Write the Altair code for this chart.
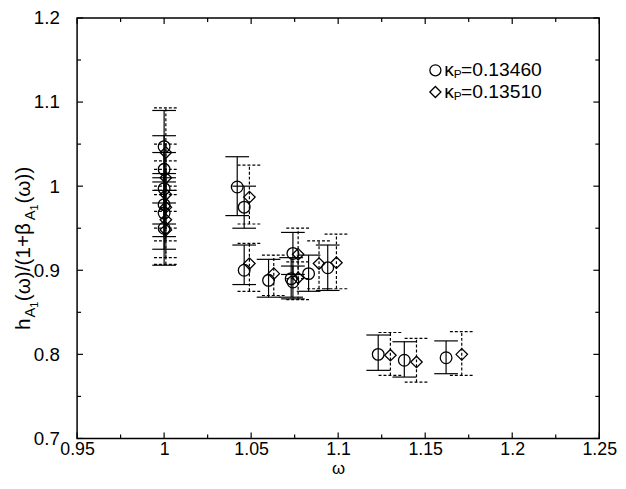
import altair as alt
import pandas as pd

# ---------------- data ----------------
kappa = ["0.13460", "0.13510"]

# series 1 : kappa_P = 0.13460 (open circles)
w1 = [1.000, 1.000, 1.000, 1.000, 1.000, 1.000,
      1.042, 1.046,
      1.046, 1.060, 1.074, 1.073, 1.074, 1.083, 1.094,
      1.123, 1.138, 1.162]
h1 = [1.047, 1.020, 0.997, 0.978, 0.968, 0.950,
      0.999, 0.975,
      0.900, 0.888, 0.920, 0.890, 0.886, 0.896, 0.903,
      0.800, 0.793, 0.796]
lo1 = [1.005, 0.980, 0.955, 0.940, 0.925, 0.906,
       0.965, 0.950,
       0.883, 0.868, 0.895, 0.868, 0.866, 0.875, 0.876,
       0.781, 0.773, 0.777]
hi1 = [1.090, 1.060, 1.040, 1.015, 1.010, 0.995,
       1.035, 1.000,
       0.930, 0.913, 0.945, 0.915, 0.905, 0.918, 0.930,
       0.823, 0.815, 0.816]

# series 2 : kappa_P = 0.13510 (open diamonds)
w2 = [1.001, 1.001, 1.001, 1.001, 1.001, 1.001,
      1.049,
      1.049, 1.063, 1.077, 1.077, 1.089, 1.099,
      1.130, 1.145, 1.171]
h2 = [1.040, 1.010, 0.990, 0.975, 0.960, 0.948,
      0.987,
      0.908, 0.896, 0.919, 0.891, 0.908, 0.909,
      0.799, 0.791, 0.800]
lo2 = [0.995, 0.970, 0.950, 0.935, 0.915, 0.907,
       0.955,
       0.875, 0.870, 0.890, 0.865, 0.878, 0.878,
       0.775, 0.767, 0.775]
hi2 = [1.093, 1.050, 1.030, 1.020, 1.000, 0.990,
       1.025,
       0.932, 0.918, 0.950, 0.910, 0.935, 0.943,
       0.826, 0.819, 0.827]

x_major = [0.95, 1.0, 1.05, 1.1, 1.15, 1.2, 1.25]
x_minor = [0.975, 1.025, 1.075, 1.125, 1.175, 1.225]
y_major = [0.7, 0.8, 0.9, 1.0, 1.1, 1.2]
y_minor = [0.75, 0.85, 0.95, 1.05, 1.15]

# ---------------- chart ----------------
W, H = 529, 426
FONT = "Liberation Sans"
FS = 19
LW = 1.2

d1 = pd.DataFrame({"w": w1, "h": h1, "lo": lo1, "hi": hi1})
d2 = pd.DataFrame({"w": w2, "h": h2, "lo": lo2, "hi": hi2})

xs = alt.Scale(domain=[0.95, 1.25], nice=False, zero=False)
ys = alt.Scale(domain=[0.7, 1.2], nice=False, zero=False)

x_axis = alt.Axis(values=x_major, format="~g", title=None, labelPadding=2, labelFontSize=18)
y_axis = alt.Axis(values=y_major, format="~g", title=None, labelPadding=18)


def xq(field):
    return alt.X(field, type="quantitative", scale=xs, axis=x_axis)


def yq(field):
    return alt.Y(field, type="quantitative", scale=ys, axis=y_axis)


layers = []


def errbars(df, dash=None):
    kw = dict(color="black", strokeWidth=LW)
    if dash:
        kw["strokeDash"] = dash
    base = alt.Chart(df)
    v = base.mark_rule(**kw).encode(x=xq("w"), y=yq("lo"), y2="hi")
    t = base.mark_rule(xOffset=-12, x2Offset=12, **kw).encode(x=xq("w"), x2="w", y=yq("hi"))
    b = base.mark_rule(xOffset=-12, x2Offset=12, **kw).encode(x=xq("w"), x2="w", y=yq("lo"))
    return [v, t, b]


pts1 = alt.Chart(d1).mark_point(shape="circle", size=140, filled=False,
                                color="black", strokeWidth=1.3, opacity=1).encode(
    x=xq("w"), y=yq("h"))
pts2 = alt.Chart(d2).mark_point(shape="diamond", size=135, filled=False,
                                color="black", strokeWidth=1.3, opacity=1).encode(
    x=xq("w"), y=yq("h"))

layers.append(pts1)
layers += errbars(d1)
layers += errbars(d2, dash=[3, 2])
layers.append(pts2)


# inward ticks on all four sides
def xticks(vals, L):
    df = pd.DataFrame({"w": vals})
    c = alt.Chart(df).mark_rule(color="black", strokeWidth=LW)
    return [c.encode(x=xq("w"), y=alt.value(H), y2=alt.value(H - L)),
            c.encode(x=xq("w"), y=alt.value(0), y2=alt.value(L))]


def yticks(vals, L):
    df = pd.DataFrame({"h": vals})
    c = alt.Chart(df).mark_rule(color="black", strokeWidth=LW)
    return [c.encode(y=yq("h"), x=alt.value(0), x2=alt.value(L)),
            c.encode(y=yq("h"), x=alt.value(W), x2=alt.value(W - L))]


layers += xticks(x_major, 6) + xticks(x_minor, 4)
layers += yticks(y_major, 6) + yticks(y_minor, 4)

one = pd.DataFrame({"a": [0]})


def txt(s, x, y, size=FS, **kw):
    return alt.Chart(one).mark_text(text=s, font=FONT, fontSize=size, color="black",
                                    **kw).encode(x=alt.value(x), y=alt.value(y))


# x title
layers.append(txt("ω", 265, 457, size=17, align="center", baseline="middle"))

# y title: h_{A1}(ω)/(1+β_{A1}(ω)), rotated
TF = 21
yt = dict(angle=270, align="left", baseline="alphabetic")
y0 = 316
xb = -48
layers += [
    txt("h", xb, y0, size=TF, **yt),
    txt("A", xb + 5, y0 - 12.5, size=15, **yt),
    txt("1", xb + 8, y0 - 22.5, size=11, **yt),
    txt("(ω)/(1+β", xb, y0 - 29, size=TF, **yt),
    txt("A", xb + 5, y0 - 111, size=15, **yt),
    txt("1", xb + 8, y0 - 121, size=11, **yt),
    txt("(ω))", xb, y0 - 128, size=TF, **yt),
]

# legend
LF = 19.5
for i, (shape, sz) in enumerate([("circle", 125), ("diamond", 125)]):
    yy = 53 + 22 * i
    layers.append(alt.Chart(one).mark_point(shape=shape, size=sz, filled=False, color="black",
                                            strokeWidth=1.3, opacity=1).encode(
        x=alt.value(363), y=alt.value(yy)))
    layers.append(txt("κ", 372, yy, size=LF, align="left", baseline="middle"))
    layers.append(txt("P", 381.5, yy + 4, size=12, align="left", baseline="middle"))
    layers.append(txt("=" + kappa[i], 389, yy, size=LF, align="left", baseline="middle"))

chart = alt.layer(*layers).properties(
    width=W, height=H,
    autosize=alt.AutoSizeParams(type="none"),
    padding={"left": 70, "top": 7, "right": 19, "bottom": 40},
    background="white",
).configure_view(stroke="black", strokeWidth=1.5).configure_axis(
    labelFont=FONT, labelFontSize=FS, labelColor="black", ticks=False, domain=False,
    grid=False, labelFlush=False, labelOverlap=False)

chart.save("out.html", embed_options={"renderer": "svg", "actions": False})
